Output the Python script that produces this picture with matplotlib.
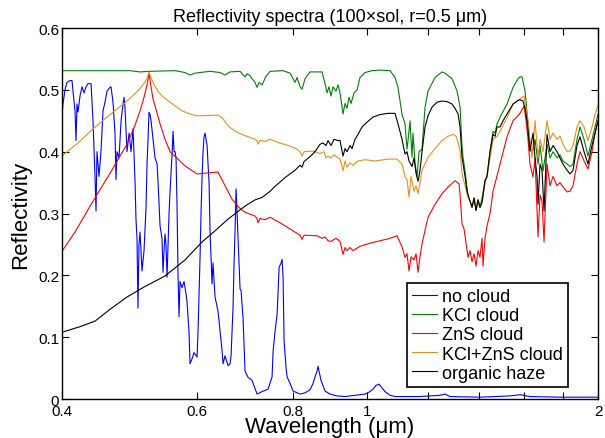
import matplotlib
matplotlib.use('Agg')
import matplotlib.pyplot as plt
from matplotlib.ticker import FixedLocator, FixedFormatter, NullLocator

plt.rcParams['font.family'] = ['Liberation Sans', 'DejaVu Sans']

# ---- spectra (wavelength in micron, reflectivity) ----
wl_none = [0.4000, 0.4012, 0.4036, 0.4060, 0.4097, 0.4122, 0.4134, 0.4159, 0.4172, 0.4184,
           0.4197, 0.4222, 0.4248, 0.4273, 0.4299, 0.4325, 0.4364, 0.4390, 0.4417, 0.4430,
           0.4443, 0.4470, 0.4497, 0.4524, 0.4551, 0.4579, 0.4620, 0.4634, 0.4662, 0.4690,
           0.4704, 0.4718, 0.4747, 0.4776, 0.4804, 0.4819, 0.4833, 0.4862, 0.4892, 0.4921,
           0.4951, 0.4981, 0.4995, 0.5010, 0.5025, 0.5040, 0.5056, 0.5086, 0.5117, 0.5148,
           0.5163, 0.5179, 0.5194, 0.5210, 0.5226, 0.5257, 0.5289, 0.5321, 0.5337, 0.5369,
           0.5401, 0.5417, 0.5434, 0.5450, 0.5466, 0.5483, 0.5516, 0.5533, 0.5566, 0.5583,
           0.5600, 0.5617, 0.5633, 0.5650, 0.5667, 0.5684, 0.5701, 0.5736, 0.5770, 0.5805,
           0.5822, 0.5840, 0.5857, 0.5875, 0.5910, 0.5946, 0.6000, 0.6018, 0.6054, 0.6072,
           0.6091, 0.6109, 0.6127, 0.6146, 0.6164, 0.6183, 0.6220, 0.6239, 0.6276, 0.6295,
           0.6333, 0.6390, 0.6429, 0.6468, 0.6487, 0.6526, 0.6585, 0.6625, 0.6645, 0.6685,
           0.6705, 0.6725, 0.6746, 0.6766, 0.6786, 0.6807, 0.6827, 0.6848, 0.6889, 0.6930,
           0.6993, 0.7078, 0.7185, 0.7293, 0.7426, 0.7516, 0.7539, 0.7584, 0.7630, 0.7676,
           0.7722, 0.7745, 0.7768, 0.7792, 0.7839, 0.7862, 0.7933, 0.8005, 0.8174, 0.8298,
           0.8423, 0.8499, 0.8551, 0.8602, 0.8628, 0.8654, 0.8706, 0.8811, 0.8944, 0.9134,
           0.9357, 0.9642, 0.9936, 1.0086, 1.0177, 1.0269, 1.0362, 1.0425, 1.0551, 1.0711,
           1.0873, 1.1719, 1.2442, 1.2630, 1.2821, 1.4030, 1.5353, 1.5820, 1.6302, 1.7838,
           2.0000]
r_none = [0.460, 0.477, 0.500, 0.512, 0.515, 0.515, 0.498, 0.466, 0.418, 0.477,
          0.464, 0.490, 0.505, 0.495, 0.505, 0.510, 0.510, 0.450, 0.359, 0.304,
          0.400, 0.360, 0.401, 0.466, 0.480, 0.498, 0.504, 0.505, 0.480, 0.429,
          0.355, 0.400, 0.390, 0.450, 0.477, 0.488, 0.470, 0.400, 0.430, 0.400,
          0.437, 0.350, 0.290, 0.260, 0.147, 0.250, 0.270, 0.207, 0.240, 0.310,
          0.380, 0.420, 0.464, 0.460, 0.450, 0.420, 0.390, 0.380, 0.351, 0.280,
          0.259, 0.205, 0.240, 0.267, 0.250, 0.197, 0.300, 0.336, 0.396, 0.433,
          0.400, 0.400, 0.390, 0.312, 0.200, 0.133, 0.190, 0.180, 0.190, 0.170,
          0.157, 0.133, 0.108, 0.057, 0.065, 0.075, 0.068, 0.110, 0.229, 0.300,
          0.359, 0.400, 0.424, 0.430, 0.420, 0.410, 0.350, 0.272, 0.186, 0.220,
          0.165, 0.142, 0.110, 0.078, 0.057, 0.070, 0.054, 0.057, 0.070, 0.149,
          0.220, 0.272, 0.340, 0.300, 0.260, 0.220, 0.178, 0.175, 0.130, 0.045,
          0.035, 0.030, 0.008, 0.012, 0.016, 0.036, 0.078, 0.110, 0.137, 0.213,
          0.220, 0.226, 0.197, 0.094, 0.050, 0.036, 0.025, 0.013, 0.008, 0.010,
          0.015, 0.025, 0.036, 0.045, 0.053, 0.045, 0.030, 0.013, 0.008, 0.005,
          0.004, 0.006, 0.008, 0.012, 0.016, 0.022, 0.024, 0.020, 0.012, 0.006,
          0.004, 0.004, 0.006, 0.008, 0.004, 0.003, 0.005, 0.007, 0.004, 0.003,
          0.003]

wl_kcl = [0.4000, 0.4484, 0.4906, 0.5056, 0.5210, 0.5617, 0.5787, 0.5875, 0.5964, 0.6239,
          0.6429, 0.6526, 0.6625, 0.6827, 0.6930, 0.6971, 0.7034, 0.7078, 0.7140, 0.7185,
          0.7227, 0.7293, 0.7380, 0.7471, 0.7768, 0.7933, 0.8052, 0.8100, 0.8174, 0.8223,
          0.8298, 0.8423, 0.8602, 0.8732, 0.8811, 0.8864, 0.8917, 0.8971, 0.9025, 0.9106,
          0.9161, 0.9217, 0.9300, 0.9357, 0.9413, 0.9469, 0.9526, 0.9612, 0.9700, 0.9787,
          0.9936, 1.0146, 1.0393, 1.0711, 1.0873, 1.0970, 1.1103, 1.1203, 1.1270, 1.1304,
          1.1372, 1.1441, 1.1475, 1.1546, 1.1615, 1.1685, 1.1790, 1.1897, 1.2004, 1.2260,
          1.2520, 1.2630, 1.2902, 1.3097, 1.3216, 1.3295, 1.3335, 1.3415, 1.3537, 1.3618,
          1.3700, 1.3783, 1.3866, 1.3949, 1.4030, 1.4118, 1.4245, 1.4331, 1.4462, 1.4592,
          1.4680, 1.4768, 1.4902, 1.5218, 1.5494, 1.5728, 1.5820, 1.5918, 1.6064, 1.6209,
          1.6302, 1.6405, 1.6553, 1.6703, 1.6803, 1.6955, 1.7160, 1.7315, 1.7472, 1.7682,
          1.7838, 1.8000, 1.8222, 1.8387, 1.8553, 1.8777, 1.8947, 1.9176, 1.9407, 1.9641,
          1.9819, 2.0000]
r_kcl = [0.531, 0.531, 0.531, 0.529, 0.530, 0.531, 0.528, 0.524, 0.527, 0.530,
         0.528, 0.524, 0.529, 0.530, 0.521, 0.526, 0.523, 0.518, 0.512, 0.504,
         0.512, 0.508, 0.522, 0.530, 0.531, 0.527, 0.512, 0.520, 0.505, 0.501,
         0.518, 0.529, 0.529, 0.529, 0.510, 0.495, 0.505, 0.490, 0.505, 0.498,
         0.508, 0.495, 0.461, 0.478, 0.470, 0.488, 0.478, 0.495, 0.500, 0.520,
         0.528, 0.531, 0.532, 0.531, 0.520, 0.504, 0.460, 0.445, 0.404, 0.418,
         0.450, 0.391, 0.430, 0.380, 0.360, 0.400, 0.404, 0.472, 0.498, 0.520,
         0.529, 0.527, 0.518, 0.498, 0.472, 0.408, 0.390, 0.369, 0.327, 0.320,
         0.310, 0.325, 0.305, 0.322, 0.310, 0.325, 0.353, 0.360, 0.401, 0.433,
         0.430, 0.445, 0.456, 0.477, 0.504, 0.518, 0.521, 0.521, 0.498, 0.445,
         0.410, 0.396, 0.420, 0.380, 0.410, 0.369, 0.412, 0.390, 0.400, 0.390,
         0.395, 0.385, 0.380, 0.376, 0.380, 0.420, 0.440, 0.420, 0.393, 0.420,
         0.440, 0.460]

wl_zns = [0.4000, 0.4159, 0.4390, 0.4620, 0.4862, 0.4981, 0.5056, 0.5117, 0.5163, 0.5194,
          0.5226, 0.5257, 0.5289, 0.5369, 0.5450, 0.5533, 0.5667, 0.5787, 0.6000, 0.6239,
          0.6390, 0.6526, 0.6664, 0.6827, 0.6930, 0.7140, 0.7185, 0.7205, 0.7249, 0.7358,
          0.7471, 0.7697, 0.7933, 0.8100, 0.8174, 0.8223, 0.8273, 0.8602, 0.8732, 0.8811,
          0.8890, 0.8971, 0.9106, 0.9217, 0.9300, 0.9357, 0.9413, 0.9498, 0.9584, 0.9787,
          1.0086, 1.0393, 1.0646, 1.0938, 1.1103, 1.1203, 1.1270, 1.1338, 1.1407, 1.1511,
          1.1580, 1.1650, 1.1719, 1.1790, 1.2004, 1.2260, 1.2520, 1.2747, 1.3019, 1.3176,
          1.3216, 1.3295, 1.3375, 1.3537, 1.3618, 1.3700, 1.3783, 1.3866, 1.3949, 1.4030,
          1.4118, 1.4160, 1.4245, 1.4331, 1.4462, 1.4592, 1.4902, 1.5218, 1.5494, 1.5728,
          1.5820, 1.6014, 1.6112, 1.6209, 1.6302, 1.6454, 1.6553, 1.6703, 1.6803, 1.6904,
          1.7006, 1.7160, 1.7315, 1.7472, 1.7682, 1.7838, 1.8000, 1.8222, 1.8387, 1.8553,
          1.8777, 1.8947, 1.9176, 1.9407, 1.9641, 1.9819, 2.0000]
r_zns = [0.239, 0.270, 0.320, 0.365, 0.412, 0.443, 0.466, 0.488, 0.508, 0.527,
         0.505, 0.485, 0.474, 0.445, 0.420, 0.400, 0.388, 0.377, 0.364, 0.366,
         0.367, 0.345, 0.323, 0.308, 0.302, 0.296, 0.292, 0.285, 0.292, 0.290,
         0.294, 0.285, 0.275, 0.268, 0.265, 0.258, 0.265, 0.264, 0.260, 0.262,
         0.256, 0.255, 0.260, 0.255, 0.234, 0.245, 0.240, 0.245, 0.240, 0.247,
         0.252, 0.256, 0.259, 0.264, 0.246, 0.229, 0.235, 0.207, 0.230, 0.225,
         0.235, 0.205, 0.230, 0.251, 0.294, 0.315, 0.332, 0.343, 0.353, 0.348,
         0.330, 0.283, 0.275, 0.229, 0.240, 0.222, 0.235, 0.215, 0.240, 0.229,
         0.260, 0.215, 0.260, 0.280, 0.300, 0.336, 0.380, 0.424, 0.450, 0.458,
         0.462, 0.474, 0.450, 0.420, 0.380, 0.359, 0.390, 0.262, 0.330, 0.320,
         0.254, 0.380, 0.345, 0.360, 0.345, 0.350, 0.343, 0.335, 0.336, 0.345,
         0.380, 0.400, 0.385, 0.372, 0.400, 0.430, 0.450]

wl_both = [0.4000, 0.4222, 0.4390, 0.4620, 0.4862, 0.5010, 0.5101, 0.5163, 0.5194, 0.5226,
           0.5273, 0.5337, 0.5401, 0.5533, 0.5736, 0.5875, 0.6000, 0.6390, 0.6468, 0.6585,
           0.6725, 0.6867, 0.7034, 0.7140, 0.7185, 0.7205, 0.7249, 0.7358, 0.7471, 0.7697,
           0.7933, 0.8100, 0.8174, 0.8223, 0.8273, 0.8499, 0.8679, 0.8784, 0.8837, 0.8890,
           0.8971, 0.9052, 0.9161, 0.9217, 0.9300, 0.9357, 0.9413, 0.9498, 0.9584, 0.9729,
           0.9936, 1.0238, 1.0646, 1.0938, 1.1103, 1.1203, 1.1270, 1.1338, 1.1407, 1.1511,
           1.1580, 1.1650, 1.1719, 1.1790, 1.2004, 1.2260, 1.2520, 1.2747, 1.2941, 1.3058,
           1.3137, 1.3216, 1.3295, 1.3415, 1.3496, 1.3618, 1.3700, 1.3783, 1.3866, 1.3949,
           1.4030, 1.4118, 1.4245, 1.4331, 1.4462, 1.4592, 1.4768, 1.4902, 1.5218, 1.5494,
           1.5820, 1.6014, 1.6112, 1.6209, 1.6302, 1.6405, 1.6553, 1.6703, 1.6803, 1.6955,
           1.7160, 1.7315, 1.7472, 1.7682, 1.7838, 1.8000, 1.8222, 1.8387, 1.8553, 1.8777,
           1.8947, 1.9176, 1.9407, 1.9641, 1.9819, 2.0000]
r_both = [0.393, 0.417, 0.437, 0.460, 0.482, 0.497, 0.508, 0.518, 0.529, 0.520,
          0.508, 0.498, 0.490, 0.480, 0.466, 0.461, 0.458, 0.459, 0.455, 0.442,
          0.433, 0.428, 0.423, 0.420, 0.418, 0.412, 0.418, 0.417, 0.420, 0.414,
          0.409, 0.404, 0.400, 0.393, 0.400, 0.401, 0.397, 0.400, 0.390, 0.393,
          0.390, 0.395, 0.390, 0.388, 0.369, 0.385, 0.375, 0.382, 0.378, 0.385,
          0.387, 0.385, 0.388, 0.388, 0.380, 0.359, 0.355, 0.327, 0.360, 0.336,
          0.345, 0.332, 0.350, 0.370, 0.391, 0.405, 0.418, 0.425, 0.428, 0.425,
          0.415, 0.401, 0.364, 0.345, 0.332, 0.320, 0.310, 0.325, 0.305, 0.322,
          0.310, 0.318, 0.350, 0.360, 0.390, 0.420, 0.425, 0.433, 0.455, 0.477,
          0.485, 0.490, 0.470, 0.450, 0.420, 0.390, 0.450, 0.390, 0.420, 0.400,
          0.450, 0.420, 0.430, 0.420, 0.425, 0.412, 0.400, 0.401, 0.410, 0.440,
          0.450, 0.440, 0.418, 0.440, 0.460, 0.475]

wl_haze = [0.4000, 0.4222, 0.4417, 0.4620, 0.4862, 0.5132, 0.5450, 0.5787, 0.6091, 0.6333,
           0.6585, 0.6930, 0.7140, 0.7293, 0.7471, 0.7584, 0.7814, 0.8052, 0.8174, 0.8223,
           0.8273, 0.8423, 0.8551, 0.8679, 0.8758, 0.8837, 0.8890, 0.8971, 0.9052, 0.9161,
           0.9217, 0.9300, 0.9357, 0.9413, 0.9498, 0.9555, 0.9642, 0.9729, 0.9846, 1.0000,
           1.0177, 1.0393, 1.0646, 1.0873, 1.0970, 1.1103, 1.1203, 1.1270, 1.1338, 1.1441,
           1.1511, 1.1580, 1.1650, 1.1719, 1.1790, 1.1897, 1.2004, 1.2150, 1.2333, 1.2520,
           1.2709, 1.2902, 1.3019, 1.3137, 1.3216, 1.3295, 1.3415, 1.3496, 1.3618, 1.3700,
           1.3783, 1.3866, 1.3949, 1.4030, 1.4118, 1.4245, 1.4331, 1.4462, 1.4592, 1.4680,
           1.4768, 1.4902, 1.5037, 1.5218, 1.5494, 1.5728, 1.5820, 1.5966, 1.6064, 1.6161,
           1.6302, 1.6454, 1.6553, 1.6653, 1.6703, 1.6803, 1.6904, 1.7006, 1.7160, 1.7315,
           1.7472, 1.7682, 1.7838, 1.8000, 1.8222, 1.8387, 1.8553, 1.8777, 1.8947, 1.9176,
           1.9407, 1.9641, 1.9819, 2.0000]
r_haze = [0.108, 0.117, 0.126, 0.145, 0.165, 0.182, 0.199, 0.225, 0.254, 0.272,
          0.291, 0.312, 0.322, 0.326, 0.336, 0.344, 0.358, 0.370, 0.378, 0.375,
          0.384, 0.392, 0.400, 0.412, 0.414, 0.410, 0.418, 0.410, 0.420, 0.418,
          0.418, 0.393, 0.405, 0.400, 0.410, 0.405, 0.420, 0.428, 0.440, 0.448,
          0.456, 0.460, 0.462, 0.462, 0.445, 0.420, 0.396, 0.400, 0.385, 0.376,
          0.390, 0.365, 0.352, 0.370, 0.400, 0.440, 0.458, 0.472, 0.480, 0.482,
          0.481, 0.477, 0.470, 0.461, 0.440, 0.391, 0.360, 0.336, 0.320, 0.310,
          0.325, 0.305, 0.322, 0.310, 0.318, 0.353, 0.360, 0.400, 0.428, 0.425,
          0.440, 0.440, 0.450, 0.461, 0.477, 0.483, 0.484, 0.482, 0.470, 0.450,
          0.401, 0.430, 0.390, 0.360, 0.315, 0.380, 0.370, 0.304, 0.428, 0.400,
          0.410, 0.400, 0.390, 0.380, 0.370, 0.364, 0.370, 0.410, 0.424, 0.400,
          0.380, 0.410, 0.430, 0.450]

series_labels = ['no cloud', 'KCl cloud', 'ZnS cloud', 'KCl+ZnS cloud', 'organic haze']
xtick_vals = [0.4, 0.6, 0.8, 1, 1.2, 1.4, 1.6, 1.8, 2]
xtick_text = ['0.4', '0.6', '0.8', '1', '', '', '', '', '2']

fig = plt.figure(figsize=(6.05, 4.39), dpi=100)
ax = fig.add_axes([0.1025, 0.0888, 0.8860, 0.8451])

lw = 0.8
ax.plot(wl_none, r_none, color='#0000ff', lw=lw, label=series_labels[0])
ax.plot(wl_kcl, r_kcl, color='#008000', lw=lw, label=series_labels[1])
ax.plot(wl_zns, r_zns, color='#ff0000', lw=lw, label=series_labels[2])
ax.plot(wl_both, r_both, color='#e8901c', lw=lw, label=series_labels[3])
ax.plot(wl_haze, r_haze, color='#000000', lw=lw, label=series_labels[4])

ax.set_xscale('log')
ax.set_xlim(0.4, 2)
ax.set_ylim(0, 0.6)
ax.xaxis.set_major_locator(FixedLocator(xtick_vals))
ax.xaxis.set_major_formatter(FixedFormatter(xtick_text))
ax.xaxis.set_minor_locator(NullLocator())
ax.set_yticks([0, 0.1, 0.2, 0.3, 0.4, 0.5, 0.6])
ax.set_yticklabels(['0', '0.1', '0.2', '0.3', '0.4', '0.5', '0.6'])
ax.tick_params(direction='in', top=True, right=True, length=5, width=0.8,
               labelsize=11)
ax.tick_params(axis='x', pad=3.5)
ax.tick_params(axis='y', pad=2)
for s in ax.spines.values():
    s.set_linewidth(1.0)

ax.set_title('Reflectivity spectra (100\u00d7sol, r=0.5 \u03bcm)', fontsize=13, pad=5)
ax.set_xlabel('Wavelength (\u03bcm)', fontsize=16, labelpad=-1)
ax.set_ylabel('Reflectivity', fontsize=16, labelpad=5)

leg = ax.legend(loc='lower right', bbox_to_anchor=(0.944, 0.032), borderaxespad=0,
                fontsize=13, handlelength=1.4, handletextpad=0.25, labelspacing=0.12,
                borderpad=0.3, fancybox=False, framealpha=1, edgecolor='black')
leg.get_frame().set_linewidth(1.2)

fig.savefig('out.png', dpi=100)
